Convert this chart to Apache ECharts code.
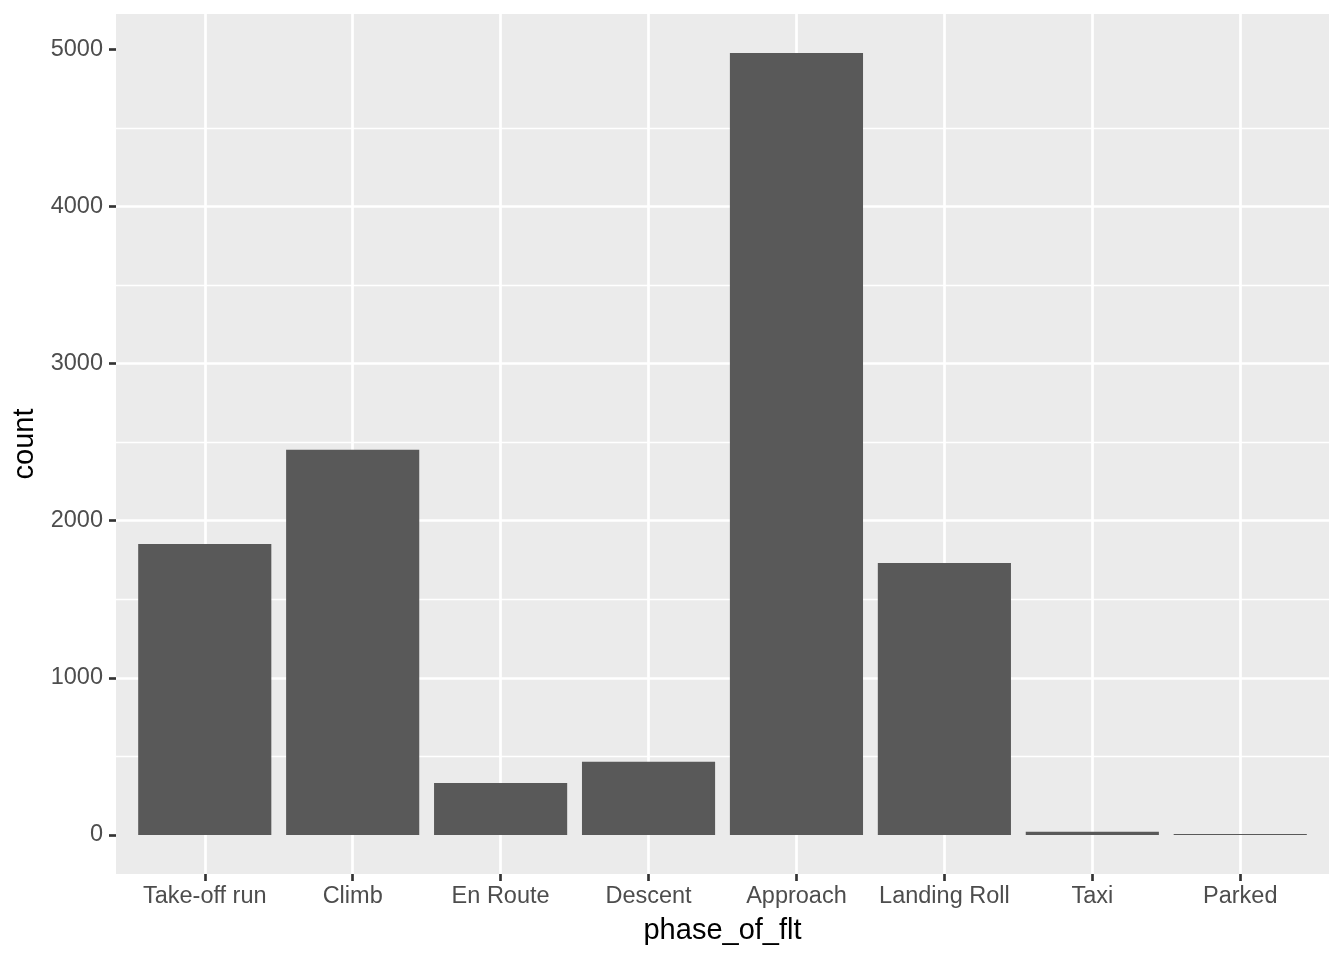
<!DOCTYPE html>
<html>
<head>
<meta charset="utf-8">
<script src="https://cdn.jsdelivr.net/npm/echarts@6/dist/echarts.min.js"></script>
<style>
  html, body { margin: 0; padding: 0; background: #fff; }
  #main { width: 1344px; height: 960px; }
</style>
</head>
<body>
<div id="main"></div>
<script>
var phases = ["Take-off run", "Climb", "En Route", "Descent", "Approach", "Landing Roll", "Taxi", "Parked"];
var counts = [1852, 2451, 331, 465, 4976, 1731, 20, 5];
var yTicks = [0, 1000, 2000, 3000, 4000, 5000];

var dom = document.getElementById("main");
var myChart = echarts.init(dom, null, { renderer: "canvas" });

// panel box, like ggplot's grey panel
var panelL = 116, panelR = 1329, panelT = 14, panelB = 874;
var unit = (panelR - panelL) / (phases.length + 0.2);
var maxCount = Math.max.apply(null, counts);
var yMin = -0.05 * maxCount;
var yMax = 1.05 * maxCount;

var font = "Liberation Sans, Arial, sans-serif";
var gridW = 2.67;

var option = {
  backgroundColor: "#ffffff",
  animation: false,
  grid: [
    {
      left: panelL, top: panelT,
      width: panelR - panelL, height: panelB - panelT,
      show: true, backgroundColor: "#EBEBEB", borderWidth: 0
    },
    {
      left: panelL + 0.6 * unit, top: panelT,
      width: panelR - panelL - 1.2 * unit, height: panelB - panelT,
      show: false
    }
  ],
  xAxis: [
    { type: "value", gridIndex: 0, show: false, min: 0, max: 1 },
    {
      type: "category",
      gridIndex: 1,
      data: phases,
      boundaryGap: false,
      axisLine: { show: false, onZero: false },
      axisTick: { show: true, interval: 0, length: 7, lineStyle: { color: "#333333", width: gridW } },
      axisLabel: { interval: 0, margin: 11, fontSize: 23.5, color: "#4D4D4D", fontFamily: font },
      splitLine: { show: true, interval: 0, lineStyle: { color: "#ffffff", width: gridW } },
      name: "phase_of_flt",
      nameLocation: "middle",
      nameGap: 42,
      nameTextStyle: { fontSize: 29, color: "#000000", fontFamily: font }
    }
  ],
  yAxis: [
    {
      type: "value",
      gridIndex: 0,
      min: yMin,
      max: yMax,
      axisLine: { show: false },
      axisTick: { show: true, length: 7, customValues: yTicks, lineStyle: { color: "#333333", width: gridW } },
      axisLabel: {
        margin: 13, fontSize: 23.5, color: "#4D4D4D", fontFamily: font,
        customValues: yTicks,
        formatter: function (v) { return String(v); }
      },
      splitLine: { show: true, showMinLine: false, showMaxLine: false, lineStyle: { color: "#ffffff", width: gridW } },
      minorTick: { show: false, splitNumber: 2 },
      minorSplitLine: { show: true, lineStyle: { color: "#ffffff", width: gridW / 2 } },
      name: "count",
      nameLocation: "middle",
      nameRotate: 90,
      nameGap: 77,
      nameTextStyle: { fontSize: 29, color: "#000000", fontFamily: font }
    },
    { type: "value", gridIndex: 1, show: false, min: yMin, max: yMax, splitLine: { show: false } }
  ],
  series: [
    {
      type: "bar",
      xAxisIndex: 1,
      yAxisIndex: 1,
      data: counts,
      barWidth: 0.9 * unit,
      clip: false,
      itemStyle: { color: "#595959" }
    }
  ]
};

myChart.setOption(option);
window.addEventListener("resize", myChart.resize);
</script>
</body>
</html>
